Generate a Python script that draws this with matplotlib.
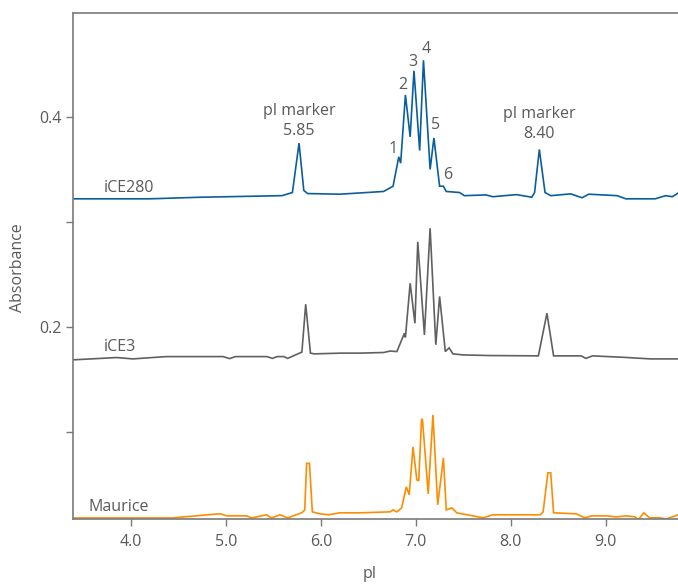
import matplotlib
matplotlib.use("Agg")
import matplotlib.pyplot as plt

# ---- data ----
ice280_pi = [3.39, 4.20, 4.73, 5.59, 5.70, 5.77, 5.82, 5.86, 6.20, 6.66, 6.76, 6.82, 6.84,
             6.89, 6.94, 6.98, 7.04, 7.08, 7.15, 7.19, 7.25, 7.29, 7.32, 7.46, 7.51, 7.74,
             7.81, 8.06, 8.22, 8.25, 8.30, 8.36, 8.42, 8.63, 8.75, 8.82, 9.12, 9.21, 9.52,
             9.63, 9.70, 9.77]
ice280_abs = [0.322, 0.322, 0.3235, 0.325, 0.328, 0.375, 0.330, 0.327, 0.3264, 0.329, 0.334,
              0.362, 0.356, 0.421, 0.381, 0.444, 0.368, 0.454, 0.350, 0.380, 0.334, 0.334,
              0.329, 0.328, 0.325, 0.3257, 0.324, 0.326, 0.3235, 0.328, 0.369, 0.328, 0.325,
              0.3267, 0.323, 0.3264, 0.325, 0.322, 0.322, 0.325, 0.324, 0.328]

ice3_pi = [3.39, 3.85, 4.02, 4.37, 4.97, 5.04, 5.10, 5.43, 5.49, 5.54, 5.61, 5.65, 5.80,
           5.84, 5.89, 5.93, 6.21, 6.41, 6.66, 6.73, 6.80, 6.88, 6.89, 6.94, 6.99, 7.02,
           7.09, 7.15, 7.21, 7.25, 7.31, 7.35, 7.39, 7.50, 7.78, 8.29, 8.38, 8.45, 8.74,
           8.79, 8.86, 9.19, 9.47, 9.77]
ice3_abs = [0.1686, 0.1708, 0.1695, 0.1717, 0.1717, 0.1698, 0.1717, 0.1717, 0.170, 0.1717,
            0.1717, 0.170, 0.176, 0.2216, 0.175, 0.1743, 0.175, 0.175, 0.1756, 0.177, 0.1765,
            0.194, 0.190, 0.2416, 0.2035, 0.281, 0.1924, 0.294, 0.183, 0.229, 0.1765, 0.180,
            0.1743, 0.1733, 0.1727, 0.1724, 0.213, 0.1724, 0.1724, 0.170, 0.1724, 0.171,
            0.1695, 0.1695]

maurice_pi = [3.39, 4.43, 4.94, 5.01, 5.22, 5.27, 5.43, 5.48, 5.57, 5.65, 5.80, 5.83, 5.85,
              5.88, 5.91, 5.99, 6.08, 6.20, 6.41, 6.73, 6.76, 6.80, 6.85, 6.90, 6.93, 6.97,
              7.01, 7.03, 7.06, 7.07, 7.13, 7.18, 7.23, 7.29, 7.32, 7.38, 7.43, 7.71, 7.81,
              8.31, 8.34, 8.39, 8.42, 8.45, 8.69, 8.78, 8.85, 9.01, 9.11, 9.22, 9.31, 9.34,
              9.40, 9.46, 9.57, 9.64, 9.76]
maurice_abs = [0.018, 0.018, 0.022, 0.020, 0.020, 0.018, 0.021, 0.018, 0.021, 0.018, 0.023,
               0.0257, 0.070, 0.070, 0.0238, 0.0219, 0.021, 0.0229, 0.0229, 0.0238, 0.0257,
               0.0238, 0.0276, 0.0476, 0.040, 0.0857, 0.0543, 0.0533, 0.1124, 0.1114, 0.041,
               0.1162, 0.0305, 0.0752, 0.0257, 0.0276, 0.0229, 0.0181, 0.021, 0.021, 0.0238,
               0.061, 0.061, 0.0229, 0.0219, 0.0181, 0.020, 0.020, 0.019, 0.020, 0.019, 0.016,
               0.0229, 0.0181, 0.0181, 0.017, 0.021]

series_names = ["iCE280", "iCE3", "Maurice"]
x_ticks = [4.0, 5.0, 6.0, 7.0, 8.0, 9.0]
x_tick_labels = ["4.0", "5.0", "6.0", "7.0", "8.0", "9.0"]
y_ticks = [0.1, 0.2, 0.3, 0.4]
y_tick_labels = ["", "0.2", "", "0.4"]
peak_numbers = ["1", "2", "3", "4", "5", "6"]
peak_label_pi = [6.76, 6.86, 6.97, 7.11, 7.21, 7.33]
peak_label_abs = [0.362, 0.423, 0.445, 0.457, 0.385, 0.337]
marker_labels = ["pI marker\n5.85", "pI marker\n8.40"]
marker_label_pi = [5.77, 8.30]
marker_label_abs = [0.379, 0.376]

# ---- style ----
plt.rcParams['font.family'] = ['Open Sans', 'DejaVu Sans']
TXT = '#5a5a5a'
SPINE = '#7a7a7a'
colors = ['#0b5e9c', '#606060', '#ff8c00']
FS = 11.5

fig = plt.figure(figsize=(6.78, 5.84), dpi=100)
ax = fig.add_axes([73/678, 1 - 519/584, (678-73)/678, (519-13)/584])

for (px, py), c in zip([(ice280_pi, ice280_abs), (ice3_pi, ice3_abs), (maurice_pi, maurice_abs)], colors):
    ax.plot(px, py, color=c, lw=1.2, solid_joinstyle='miter')

ax.set_xlim(3.39, 9.76)
ax.set_ylim(0.017, 0.499)
ax.set_xticks(x_ticks)
ax.set_xticklabels(x_tick_labels)
ax.set_yticks(y_ticks)
ax.set_yticklabels(y_tick_labels)
ax.tick_params(colors=SPINE, labelcolor=TXT, labelsize=FS, length=5, width=1, direction='out')
ax.tick_params(axis='x', pad=6)
for s in ['left', 'bottom', 'top']:
    ax.spines[s].set_color(SPINE)
    ax.spines[s].set_linewidth(1.2)
ax.spines['right'].set_visible(False)

fig.text(370/678, 1 - 574/584, 'pI', color=TXT, fontsize=FS, ha='center', va='center')
fig.text(18/678, 1 - 268/584, 'Absorbance', color=TXT, fontsize=FS, ha='center', va='center',
         rotation=90)

# series labels
name_pos = [(3.71, 0.332), (3.71, 0.181), (3.55, 0.028)]
for n, (x, y) in zip(series_names, name_pos):
    ax.text(x, y, n, color=TXT, fontsize=FS, ha='left', va='center')

for t, x, y in zip(peak_numbers, peak_label_pi, peak_label_abs):
    ax.text(x, y, t, color=TXT, fontsize=FS, ha='center', va='bottom')

for t, x, y in zip(marker_labels, marker_label_pi, marker_label_abs):
    ax.text(x, y, t, color=TXT, fontsize=FS, ha='center', va='bottom', linespacing=1.35)

fig.savefig('out.png', dpi=100)
